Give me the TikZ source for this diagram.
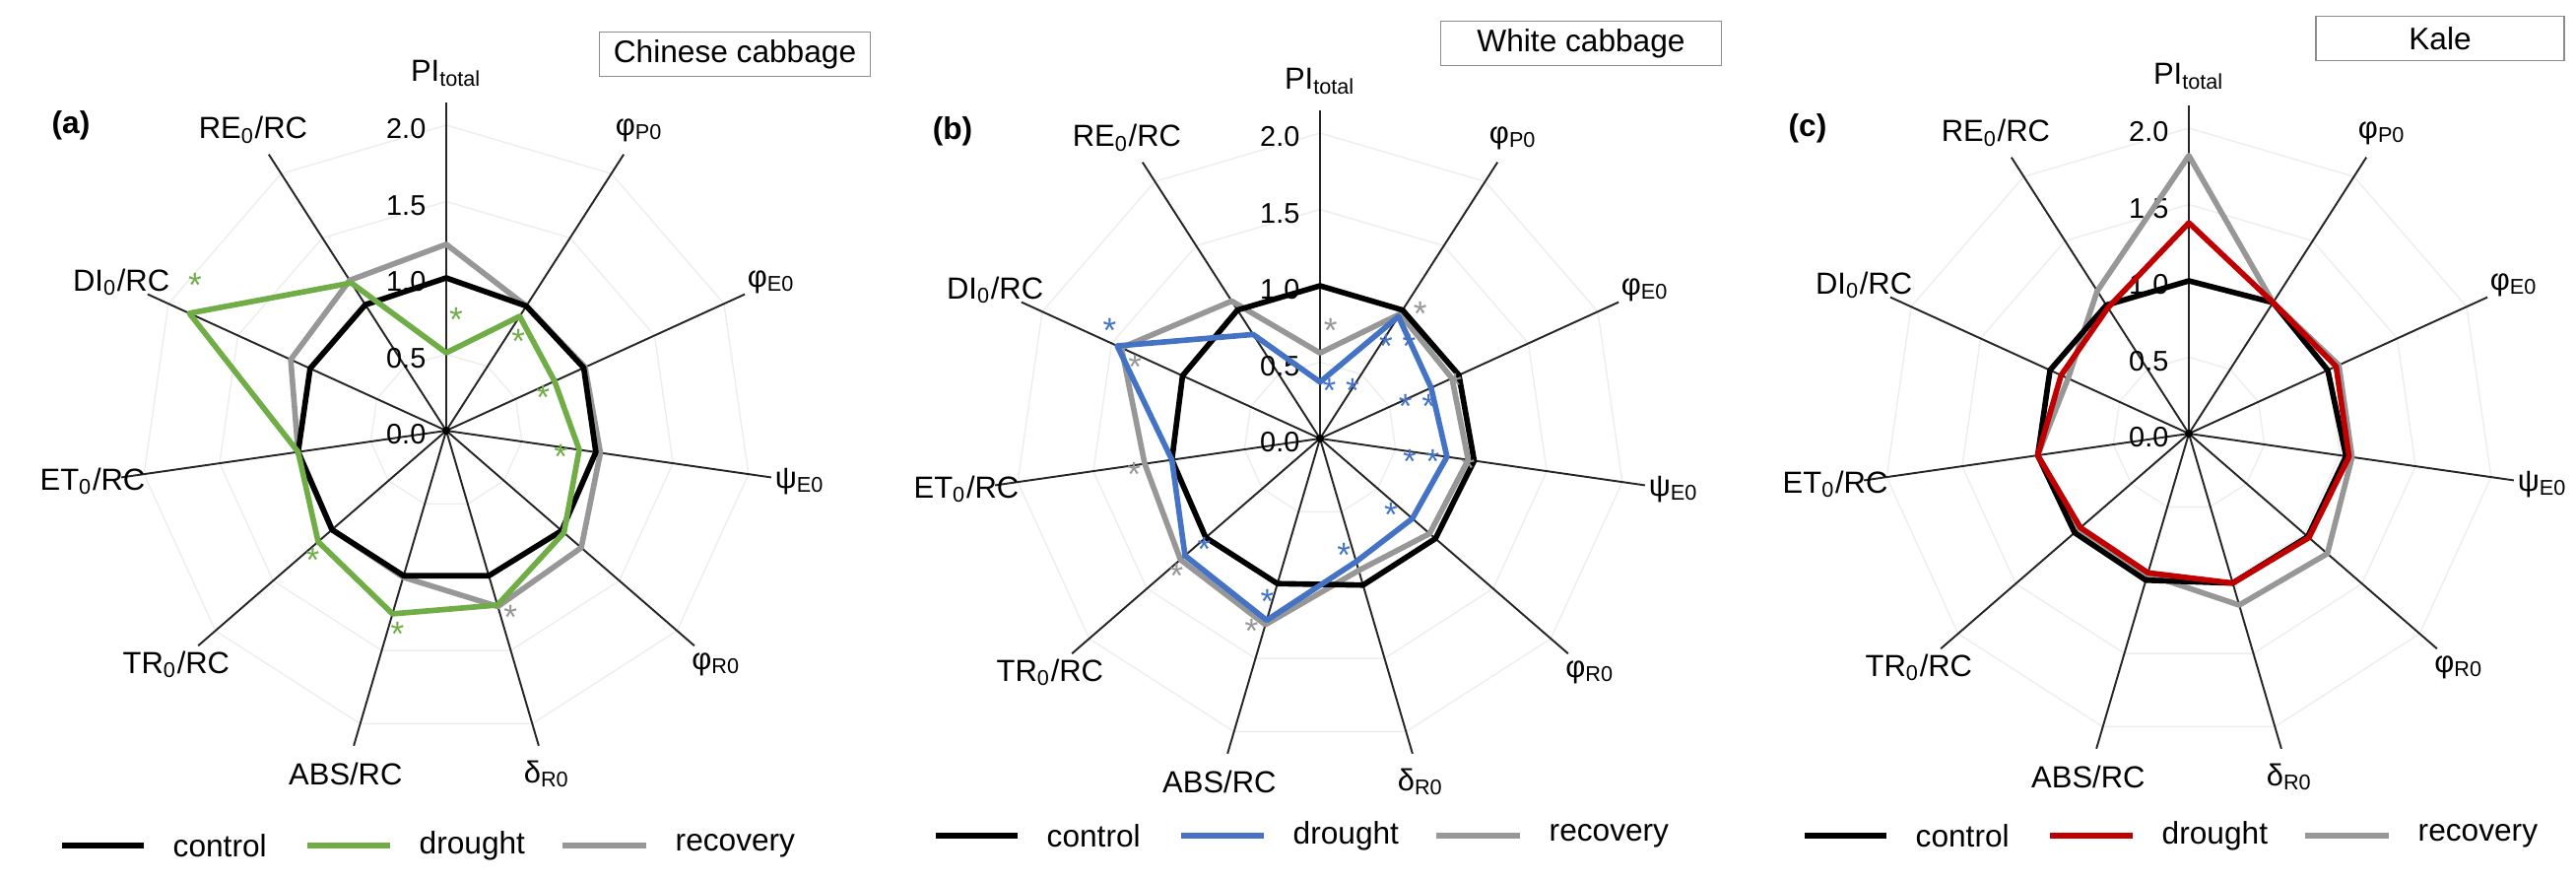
\documentclass[tikz,border=0pt]{standalone}
\usepackage{fontspec}
\setmainfont{Liberation Sans}
\definecolor{cgreen}{HTML}{70AD47}
\definecolor{cblue}{HTML}{4472C4}
\definecolor{cred}{HTML}{C00000}
\definecolor{cgray}{HTML}{979797}
\tikzset{
  grid line/.style={thin,draw=black!7},
  axis line/.style={line width=0.55pt,draw=black!85},
  axis label/.style={font=\fontsize{8.8}{10}\selectfont,inner sep=0pt},
  scale label/.style={font=\fontsize{8.2}{10}\selectfont,anchor=east,inner sep=0pt},
  series/.style={line width=1.6pt,line join=round},
  sig/.style={font=\fontsize{10}{10}\selectfont,inner sep=0pt},
  title box/.style={draw=black!45,thin,font=\fontsize{9}{11}\selectfont,minimum height=0.45cm,inner sep=0pt},
  panel/.style={font=\bfseries\fontsize{9}{11}\selectfont,inner sep=0pt},
  key/.style={font=\fontsize{9}{11}\selectfont,anchor=west,inner sep=0pt}
}
% one unit of value = 155 px
\newcommand{\radaraxes}[1]{%
  \foreach \lev in {0.5,1.0,1.5,2.0}
    \draw[grid line] \foreach \k in {0,...,10} {\ifnum\k=0 (-90:\lev*155)\else -- ({-90+\k*360/11}:\lev*155)\fi} -- cycle;
  \foreach \k in {0,...,10}
    \coordinate (#1-end\k) at ({-90+\k*360/11}:2.15*155);
  \coordinate (#1-o) at (0,0);
  \foreach \k in {0,...,10}
    \draw[axis line] (#1-o) -- (#1-end\k);
  \fill (#1-o) circle (4);
  \foreach \lab [count=\k from 0] in {PI\textsubscript{total},φ\textsubscript{P0},φ\textsubscript{E0},ψ\textsubscript{E0},φ\textsubscript{R0},δ\textsubscript{R0},ABS/RC,TR\textsubscript{0}/RC,ET\textsubscript{0}/RC,DI\textsubscript{0}/RC,RE\textsubscript{0}/RC}
    \node[axis label] (#1-lab\k) at ({-90+\k*360/11}:2.34*155) {\lab};
  \foreach \lev [count=\k] in {0.0,0.5,1.0,1.5,2.0}
    \node[scale label] (#1-num\k) at (-20,-\lev*155+4) {\lev};
}
\newcommand{\radarline}[2]{%
  \foreach \v [count=\k from 0] in {#2}
    \coordinate (p\k) at ({-90+\k*360/11}:\v*155);
  \draw[series,#1] (p0) \foreach \k in {1,...,10} {-- (p\k)} -- cycle;
}
\newcommand{\radarkey}[3]{% #1 prefix, #2 drought colour, #3 row
  \coordinate (#1-k1) at (-390,#3);
  \coordinate (#1-k2) at (-307,#3);
  \coordinate (#1-k3) at (-141,#3);
  \coordinate (#1-k4) at (-57,#3);
  \coordinate (#1-k5) at (118,#3);
  \coordinate (#1-k6) at (203,#3);
  \draw[series,black] (#1-k1) -- (#1-k2);
  \draw[series,#2] (#1-k3) -- (#1-k4);
  \draw[series,cgray] (#1-k5) -- (#1-k6);
  \node[key] (#1-t1) at (-278,#3) {control};
  \node[key] (#1-t2) at (-28,#3) {drought};
  \node[key] (#1-t3) at (232,#3) {recovery};
}
\begin{document}
\begin{tikzpicture}[x=0.01cm,y=-0.01cm]
\useasboundingbox (0,0) rectangle (2615,893);

%% (a) Chinese cabbage
\begin{scope}[shift={(453,437)}]
\radaraxes{a}
\radarline{cgray}{1.22,0.97,1.0,1.02,1.17,1.2,1.0,0.99,0.98,1.12,1.17}
\radarline{black}{1,0.97,0.99,0.99,1,0.99,0.99,0.99,0.98,0.98,0.98}
\radarline{cgreen}{0.51,0.89,0.78,0.88,1.02,1.19,1.25,1.11,0.98,1.85,1.15}
\node[sig,text=cgreen] (a-s1) at (-85:0.73*155) {*};
\node[sig,text=cgreen] (a-s2) at (-51:0.75*155) {*};
\node[sig,text=cgreen] (a-s3) at (-19:0.67*155) {*};
\node[sig,text=cgreen] (a-s4) at (13:0.77*155) {*};
\node[sig,text=cgray] (a-s5) at (71:1.29*155) {*};
\node[sig,text=cgreen] (a-s6) at (103.5:1.37*155) {*};
\node[sig,text=cgreen] (a-s7) at (135.8:1.22*155) {*};
\node[sig,text=cgreen] (a-s8) at (210:1.90*155) {*};
\radarkey{a}{cgreen}{421}
\end{scope}
\node[panel] (a-panel) at (72,127) {(a)};
\node[title box,minimum width=2.75cm] (a-title) at (746,55) {Chinese cabbage};

%% (b) White cabbage
\begin{scope}[shift={(1340,445)}]
\radaraxes{b}
\radarline{cgray}{0.56,0.97,0.95,0.98,0.95,0.9,1.27,1.21,1.16,1.43,1.07}
\radarline{black}{1,1,1,1.02,1,1,0.99,0.99,0.98,0.99,1}
\radarline{cblue}{0.37,0.95,0.8,0.84,0.8,0.84,1.24,1.17,0.98,1.46,0.81}
\node[sig,text=cgray] (b-s1) at (-84.4:0.71*155) {*};
\node[sig,text=cblue] (b-s2) at (-66.2:0.34*155) {* *};
\node[sig,text=cgray] (b-s3) at (-51.3:1.05*155) {*};
\node[sig,text=cblue] (b-s4) at (-50:0.79*155) {* *};
\node[sig,text=cgray] (b-s5) at (-21.3:0.95*155) {*};
\node[sig,text=cblue] (b-s6) at (-18.4:0.67*155) {* *};
\node[sig,text=cgray] (b-s7) at (11.3:0.99*155) {*};
\node[sig,text=cblue] (b-s8) at (12.9:0.68*155) {* *};
\node[sig,text=cblue] (b-s9) at (46.9:0.68*155) {*};
\node[sig,text=cblue] (b-s10) at (78.5:0.78*155) {*};
\node[sig,text=cblue] (b-s11) at (108:1.12*155) {*};
\node[sig,text=cgray] (b-s12) at (109.6:1.34*155) {*};
\node[sig,text=cblue] (b-s13) at (136.3:1.05*155) {*};
\node[sig,text=cgray] (b-s14) at (136.3:1.30*155) {*};
\node[sig,text=cgray] (b-s15) at (169.2:1.24*155) {*};
\node[sig,text=cgray] (b-s16) at (201.2:1.30*155) {*};
\node[sig,text=cblue] (b-s17) at (207.2:1.55*155) {*};
\radarkey{b}{cblue}{403}
\end{scope}
\node[panel] (b-panel) at (967,133) {(b)};
\node[title box,minimum width=2.85cm] (b-title) at (1605,44) {White cabbage};

%% (c) Kale
\begin{scope}[shift={(2222,440)}]
\radaraxes{c}
\radarline{cgray}{1.82,1.02,1.08,1.08,1.2,1.17,0.96,0.95,1.0,0.87,1.11}
\radarline{black}{1,1.02,1,1.04,1.03,1.02,1,0.99,1,1,1}
\radarline{cred}{1.38,1.02,1.06,1.06,1.04,1.02,0.95,0.94,1.0,0.92,0.98}
\radarkey{c}{cred}{408}
\end{scope}
\node[panel] (c-panel) at (1835,130) {(c)};
\node[title box,minimum width=2.52cm] (c-title) at (2477,39) {Kale};
\end{tikzpicture}
\end{document}
